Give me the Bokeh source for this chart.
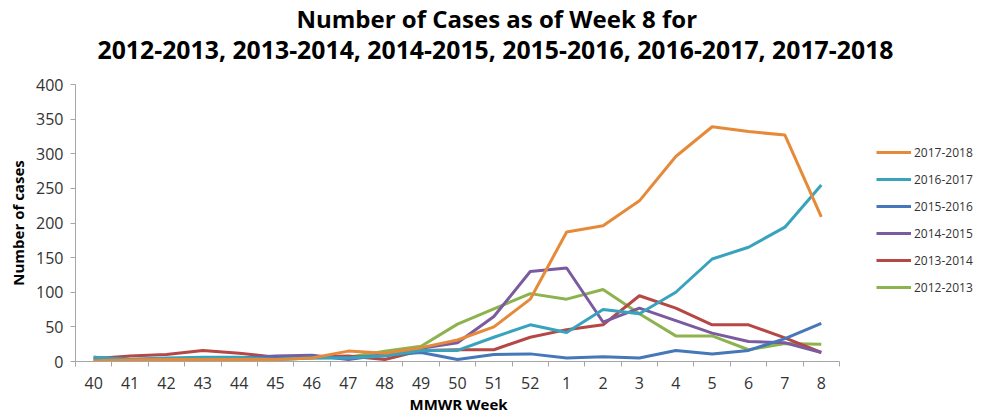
from bokeh.plotting import figure
from bokeh.models import Range1d, FixedTicker, Legend, LegendItem, Title
from bokeh.embed import file_html
from bokeh.resources import INLINE

weeks = ["40", "41", "42", "43", "44", "45", "46", "47", "48", "49", "50",
         "51", "52", "1", "2", "3", "4", "5", "6", "7", "8"]

y2017_2018 = [1, 2, 3, 3, 3, 3, 5, 15, 12, 20, 31, 50, 90, 187, 196, 232, 296, 339, 332, 327, 209]
y2016_2017 = [6, 3, 5, 6, 6, 3, 5, 5, 8, 16, 16, 35, 53, 42, 75, 69, 100, 148, 165, 194, 255]
y2015_2016 = [6, 3, 3, 3, 5, 5, 7, 5, 9, 13, 3, 10, 11, 5, 7, 5, 16, 11, 16, 33, 55]
y2014_2015 = [1, 3, 4, 3, 5, 8, 9, 3, 10, 19, 27, 65, 130, 135, 57, 77, 59, 41, 29, 27, 13]
y2013_2014 = [4, 8, 10, 16, 12, 6, 7, 8, 3, 16, 17, 17, 35, 46, 53, 95, 77, 53, 53, 34, 13]
y2012_2013 = [2, 3, 4, 2, 3, 3, 5, 6, 15, 22, 54, 76, 98, 90, 104, 69, 37, 37, 17, 26, 25]

seasons = ["2017-2018", "2016-2017", "2015-2016", "2014-2015", "2013-2014", "2012-2013"]
series = [y2017_2018, y2016_2017, y2015_2016, y2014_2015, y2013_2014, y2012_2013]
colors = ["#E68A3A", "#37A3BD", "#4677B8", "#7B5BA0", "#B54744", "#8DB34E"]

y_ticks = [0, 50, 100, 150, 200, 250, 300, 350, 400]

title_line1 = "Number of Cases as of Week 8 for"
title_line2 = "2012-2013, 2013-2014, 2014-2015, 2015-2016, 2016-2017, 2017-2018"
x_label = "MMWR Week"
y_label = "Number of cases"

FONT = "Open Sans"
AXIS_GRAY = "#A6A6A6"
TEXT = "#333333"

W, H = 989, 419
LEFT = 75
PLOT_W = 764          # width of the data area (the rest on the right holds the legend)
n = len(weeks)
x = list(range(n))
x_end = -0.5 + n * (W - LEFT) / PLOT_W

p = figure(width=W, height=H, output_backend="svg", toolbar_location=None,
           x_range=Range1d(-0.5, x_end), y_range=Range1d(0, 400),
           min_border_left=LEFT, min_border_right=0, min_border_top=84,
           min_border_bottom=58, title=title_line1)
p.title.text_font = FONT
p.title.text_font_size = "24px"
p.title.text_font_style = "bold"
p.title.text_color = "black"
p.title.align = "left"
p.title.offset = 221
p.title.vertical_align = "bottom"
p.title.standoff = -48
p.add_layout(Title(text=title_line2, text_font=FONT,
                   text_font_size="24.8px", text_font_style="bold",
                   text_color="black", align="left", offset=22,
                   vertical_align="bottom", standoff=38), "above")

p.xgrid.visible = False
p.ygrid.visible = False
p.outline_line_color = None
p.background_fill_color = "white"
p.border_fill_color = "white"

renderers = {}
for name, ys, c in reversed(list(zip(seasons, series, colors))):
    renderers[name] = p.line(x, ys, line_color=c, line_width=3)

# y axis
ya = p.yaxis[0]
ya.ticker = FixedTicker(ticks=y_ticks)
ya.axis_line_color = AXIS_GRAY
ya.major_tick_line_color = AXIS_GRAY
ya.major_tick_out = 5
ya.major_tick_in = 0
ya.minor_tick_line_color = None
ya.major_label_text_font = FONT
ya.major_label_text_font_size = "16px"
ya.major_label_text_color = TEXT
ya.major_label_standoff = 7
ya.axis_label = y_label
ya.axis_label_text_font = FONT
ya.axis_label_text_font_size = "15px"
ya.axis_label_text_font_style = "bold"
ya.axis_label_text_color = "black"
ya.axis_label_standoff = 5

# x axis (limited to the category span)
xa = p.xaxis[0]
xa.bounds = (-0.5, n - 0.5)
xa.ticker = FixedTicker(ticks=x, minor_ticks=[i - 0.5 for i in range(n + 1)])
xa.major_label_overrides = {i: w for i, w in enumerate(weeks)}
xa.axis_line_color = AXIS_GRAY
xa.major_tick_line_color = None
xa.major_tick_out = 0
xa.major_tick_in = 0
xa.minor_tick_line_color = AXIS_GRAY
xa.minor_tick_out = 5
xa.minor_tick_in = 0
xa.major_label_text_font = FONT
xa.major_label_text_font_size = "16px"
xa.major_label_text_color = TEXT
xa.major_label_standoff = 10

# x axis title, centred under the category span
p.add_layout(Title(text=x_label, text_font=FONT, text_font_size="15px",
                   text_font_style="bold", text_color="black",
                   align="left", offset=334, vertical_align="top",
                   standoff=5), "below")

legend = Legend(items=[LegendItem(label=s, renderers=[renderers[s]]) for s in seasons],
                location=(801, 64), glyph_width=35, glyph_height=20,
                label_height=20, spacing=7, padding=0, margin=0,
                label_standoff=3, border_line_color=None,
                background_fill_alpha=0, label_text_font=FONT,
                label_text_font_size="12px", label_text_color=TEXT)
p.add_layout(legend, "center")

open("out.html", "w").write(file_html(p, INLINE))
